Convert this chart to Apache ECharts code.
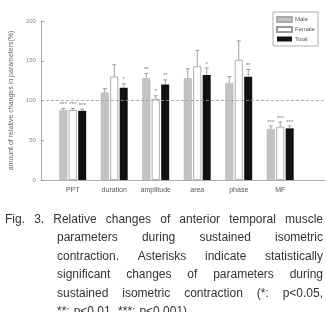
<!DOCTYPE html>
<html>
<head>
<meta charset="utf-8">
<script src="https://cdn.jsdelivr.net/npm/echarts@6/dist/echarts.min.js"></script>
<style>
  html, body { margin: 0; padding: 0; background: #fff; }
  #chart { width: 326px; height: 312px; }
</style>
</head>
<body>
<div id="chart"></div>
<script>
// data
const categories = ['PPT', 'duration', 'amplitude', 'area', 'phase', 'MF']
const maleValues = [88, 110, 128, 128, 122, 64]
const femaleValues = [88, 130, 102, 143, 151, 67]
const totalValues = [87, 116, 120, 132, 130, 65]
const maleErrTop = [90, 115, 134, 140, 130, 68]
const femaleErrTop = [90, 145, 106, 163, 175, 73]
const totalErrTop = [89, 121, 126, 141, 139, 68]
const maleStars = ['***', '', '**', '', '', '***']
const femaleStars = ['***', '', '*', '', '', '***']
const totalStars = ['***', '*', '**', '*', '**', '***']
const yTicks = [0, 50, 100, 150, 200]
const captionLines = [
  'Fig. 3. Relative changes of anterior temporal muscle',
  'parameters during sustained isometric',
  'contraction. Asterisks indicate statistically',
  'significant changes of parameters during',
  'sustained isometric contraction (*: p<0.05,',
  '**: p<0.01, ***: p<0.001)'
]

const chart = echarts.init(document.getElementById('chart'))

const barW = 8
const step = 9.5

const errSeries = (name, values, tops, starLabels, offset) => ({
  name: name + '-err',
  type: 'custom',
  xAxisIndex: 1,
  yAxisIndex: 1,
  z: 5,
  data: values.map((v, i) => [i, v, tops[i]]),
  renderItem: function (params, api) {
    const base = api.coord([api.value(0), api.value(1)])
    const top = api.coord([api.value(0), api.value(2)])
    const x = base[0] + offset
    return {
      type: 'group',
      children: [
        { type: 'line', shape: { x1: x, y1: base[1], x2: x, y2: top[1] }, style: { stroke: '#888', lineWidth: 0.8 } },
        { type: 'line', shape: { x1: x - 2, y1: top[1], x2: x + 2, y2: top[1] }, style: { stroke: '#888', lineWidth: 0.8 } },
        { type: 'text', style: { x: x, y: top[1] - 1, text: starLabels[params.dataIndex], fill: '#777', font: '6px "Liberation Sans"', align: 'center', verticalAlign: 'bottom' } }
      ]
    }
  }
})

// justified caption lines
const ctx = document.createElement('canvas').getContext('2d')
const capFont = '12px "Liberation Sans"'
ctx.font = capFont
const captionGraphics = []
captionLines.forEach((line, li) => {
  const words = line.split(' ')
  const x0 = li === 0 ? 5 : 57
  const x1 = li === captionLines.length - 1 ? 175 : 323
  const widths = words.map(w => ctx.measureText(w).width)
  const total = widths.reduce((a, b) => a + b, 0)
  const gap = Math.max(4, (x1 - x0 - total) / (words.length - 1))
  let x = x0
  words.forEach((w, wi) => {
    captionGraphics.push({
      type: 'text',
      left: x,
      top: 213.5 + li * 18.5,
      style: { text: w, font: capFont, fill: '#333' }
    })
    x += widths[wi] + gap
  })
})

const option = {
  animation: false,
  backgroundColor: '#fff',
  grid: [
    { left: 36, right: 1, top: 21, bottom: 132 },
    { left: 52, right: 25, top: 21, bottom: 132 }
  ],
  legend: {
    data: ['Male', 'Female', 'Total'],
    orient: 'vertical',
    left: 273,
    top: 12,
    padding: [4, 3, 4, 3],
    icon: 'rect',
    itemWidth: 15,
    itemHeight: 5,
    itemGap: 3,
    borderColor: '#999',
    borderWidth: 0.8,
    textStyle: { fontSize: 6, color: '#555', padding: [0, 0, 0, -2] }
  },
  xAxis: [
    {
      type: 'value', gridIndex: 0, min: 0, max: 1,
      axisLine: { show: true, onZero: false, lineStyle: { color: '#999', width: 0.8 } },
      axisTick: { show: false }, axisLabel: { show: false }, splitLine: { show: false }
    },
    {
      type: 'category', gridIndex: 1, data: categories,
      axisLine: { show: false }, axisTick: { show: false },
      axisLabel: { fontSize: 7, color: '#555', margin: 7 }
    }
  ],
  yAxis: [
    {
      type: 'value', gridIndex: 0, min: 0, max: 200, interval: 50,
      name: 'amount of relative changes in parameters(%)',
      nameLocation: 'middle', nameRotate: 90, nameGap: 20,
      nameTextStyle: { fontSize: 7, color: '#666' },
      axisLine: { show: true, lineStyle: { color: '#999', width: 0.8 } },
      axisTick: { show: true, inside: true, length: 3, lineStyle: { color: '#999' } },
      axisLabel: { fontSize: 6, color: '#888', margin: 5, formatter: v => yTicks.includes(v) ? v : '' },
      splitLine: { show: false }
    },
    {
      type: 'value', gridIndex: 1, min: 0, max: 200, show: false
    }
  ],
  series: [
    {
      name: 'ref', type: 'line', xAxisIndex: 0, yAxisIndex: 0, data: [],
      markLine: {
        silent: true, symbol: 'none', label: { show: false },
        lineStyle: { color: '#999', type: [3, 2], width: 0.8 },
        data: [{ yAxis: 100 }]
      }
    },
    {
      name: 'Male', type: 'bar', xAxisIndex: 1, yAxisIndex: 1, data: maleValues,
      barWidth: barW, barGap: '18%',
      itemStyle: { color: '#c3c3c3', borderColor: '#aaa', borderWidth: 0.5 }
    },
    {
      name: 'Female', type: 'bar', xAxisIndex: 1, yAxisIndex: 1, data: femaleValues,
      barWidth: barW, barGap: '18%',
      itemStyle: { color: '#fff', borderColor: '#999', borderWidth: 0.8 }
    },
    {
      name: 'Total', type: 'bar', xAxisIndex: 1, yAxisIndex: 1, data: totalValues,
      barWidth: barW, barGap: '18%',
      itemStyle: { color: '#111' }
    },
    errSeries('Male', maleValues, maleErrTop, maleStars, -step),
    errSeries('Female', femaleValues, femaleErrTop, femaleStars, 0),
    errSeries('Total', totalValues, totalErrTop, totalStars, step)
  ],
  graphic: captionGraphics
}

chart.setOption(option)
window.addEventListener('resize', () => chart.resize())
</script>
</body>
</html>
